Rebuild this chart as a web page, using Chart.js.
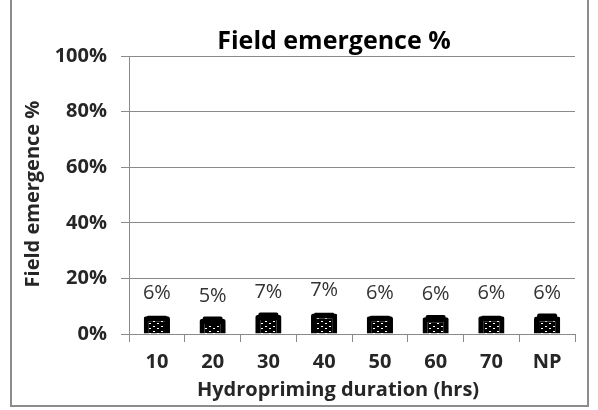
<!DOCTYPE html>
<html>
<head>
<meta charset="utf-8">
<script src="https://cdn.jsdelivr.net/npm/chart.js@4/dist/chart.umd.min.js"></script>
<style>
  html, body { margin: 0; padding: 0; background: #ffffff; }
  #wrap { width: 598px; height: 410px; }
</style>
</head>
<body>
<div id="wrap"><canvas id="chart" width="598" height="410"></canvas></div>
<script>
// Field emergence (%) by hydropriming duration
const categories = ['10', '20', '30', '40', '50', '60', '70', 'NP'];
const emergence = [6.4, 5.4, 6.8, 7.4, 6.4, 6.0, 6.4, 6.3];
const errorUp = [0.2, 0.9, 0.9, 0.2, 0.2, 0.8, 0.2, 1.1];
const yTicks = [0, 20, 40, 60, 80, 100];

const chartTitle = 'Field emergence %';
const xTitle = 'Hydropriming duration (hrs)';
const yTitle = 'Field emergence %';

const GRID = '#8a8a8a';
const TEXT = '#262626';

// black fill with small white dashes
function dottedFill(ctx) {
  const tile = document.createElement('canvas');
  tile.width = 8; tile.height = 5;
  const t = tile.getContext('2d');
  t.fillStyle = '#000';
  t.fillRect(0, 0, 8, 5);
  t.fillStyle = '#ffffff';
  t.fillRect(1, 1, 2, 1);
  t.fillRect(5, 3, 2, 1);
  return ctx.createPattern(tile, 'repeat');
}

const canvas = document.getElementById('chart');
const ctx = canvas.getContext('2d');

const decorations = {
  id: 'decorations',
  afterDatasetsDraw(chart) {
    const c = chart.ctx;
    const y = chart.scales.y;
    const meta = chart.getDatasetMeta(0);
    c.save();
    // error whiskers drawn as a short cap above each bar
    meta.data.forEach((bar, i) => {
      const top = y.getPixelForValue(emergence[i] + errorUp[i]);
      const base = y.getPixelForValue(emergence[i]);
      c.fillStyle = '#000';
      c.beginPath();
      c.roundRect(bar.x - 10, top, 20, base - top + 2, 2);
      c.fill();
    });
    // value labels
    c.fillStyle = '#333333';
    c.font = '20px "Open Sans"';
    c.textAlign = 'center';
    c.textBaseline = 'middle';
    meta.data.forEach((bar, i) => {
      const py = y.getPixelForValue(emergence[i]);
      c.fillText(Math.round(emergence[i]) + '%', bar.x, py - 23);
    });
    c.restore();
  },
  afterDraw(chart) {
    const c = chart.ctx;
    c.save();
    c.fillStyle = '#000';
    c.textAlign = 'center';
    c.textBaseline = 'middle';
    c.font = 'bold 25px "Open Sans"';
    c.fillText(chartTitle, 334, 42);
    c.fillStyle = TEXT;
    c.font = 'bold 20px "Open Sans"';
    c.fillText(xTitle, 338, 390);
    c.translate(33, 194);
    c.rotate(-Math.PI / 2);
    c.fillText(yTitle, 0, 0);
    c.restore();
    // outer frame
    c.save();
    c.strokeStyle = '#8c8c8c';
    c.lineWidth = 2;
    c.strokeRect(11, -5, 577, 411);
    c.restore();
  }
};

new Chart(ctx, {
  type: 'bar',
  data: {
    labels: categories,
    datasets: [{
      data: emergence,
      backgroundColor: dottedFill(ctx),
      borderColor: '#000',
      borderWidth: 5,
      borderRadius: 2,
      borderSkipped: 'bottom',
      barPercentage: 0.47,
      categoryPercentage: 1.0
    }]
  },
  options: {
    responsive: false,
    maintainAspectRatio: false,
    animation: false,
    layout: { padding: { top: 56, right: 23, left: 0, bottom: 0 } },
    plugins: {
      legend: { display: false },
      tooltip: { enabled: false },
      title: { display: false }
    },
    scales: {
      x: {
        offset: true,
        grid: { drawOnChartArea: false, drawTicks: true, tickLength: 8, color: GRID, offset: true },
        border: { color: GRID, width: 1 },
        ticks: { color: TEXT, font: { family: 'Open Sans', size: 20, weight: 'bold' }, padding: 8 },
        afterFit(scale) { scale.height = 76; }
      },
      y: {
        min: 0,
        max: 100,
        afterBuildTicks(scale) { scale.ticks = yTicks.map(v => ({ value: v })); },
        grid: { color: GRID, tickLength: 8 },
        border: { color: GRID, width: 1 },
        ticks: {
          color: TEXT,
          font: { family: 'Open Sans', size: 20, weight: 'bold' },
          padding: 14,
          callback: v => v + '%'
        },
        afterFit(scale) { scale.width = 129; }
      }
    }
  },
  plugins: [decorations]
});
</script>
</body>
</html>
